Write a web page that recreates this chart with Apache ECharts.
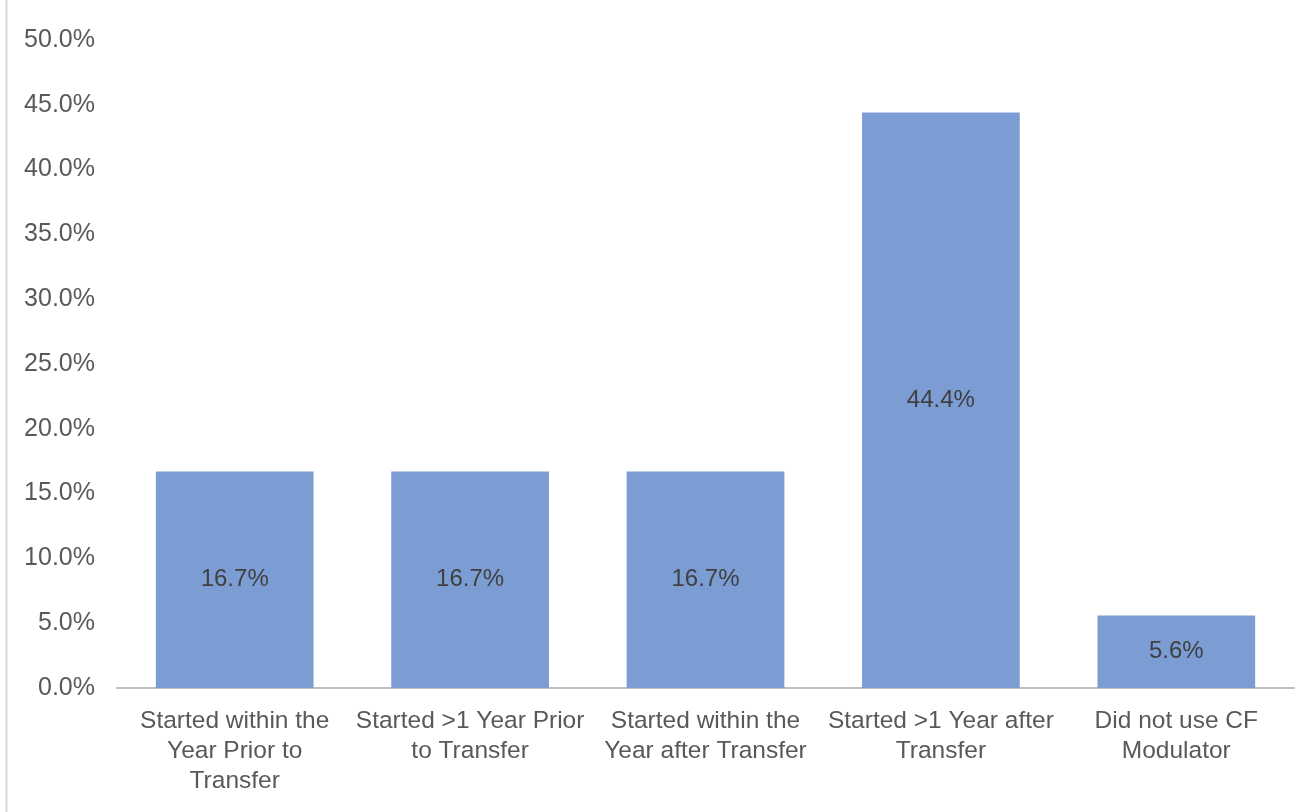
<!DOCTYPE html>
<html>
<head>
<meta charset="utf-8">
<script src="https://cdn.jsdelivr.net/npm/echarts@6/dist/echarts.min.js"></script>
<style>
  html, body { margin: 0; padding: 0; background: #ffffff; }
  #chart { width: 1310px; height: 812px; }
</style>
</head>
<body>
<div id="chart"></div>
<script>
// Timing of CF modulator start relative to transfer
const categories = [
  'Started within the\nYear Prior to\nTransfer',
  'Started >1 Year Prior\nto Transfer',
  'Started within the\nYear after Transfer',
  'Started >1 Year after\nTransfer',
  'Did not use CF\nModulator'
];
const shares = [16.7, 16.7, 16.7, 44.4, 5.6];

const yMin = 0;
const yMax = 50;
const yStep = 5;

const font = 'Liberation Sans, Arial, sans-serif';
const chart = echarts.init(document.getElementById('chart'), null, { renderer: 'canvas' });

chart.setOption({
  backgroundColor: '#ffffff',
  animation: false,
  grid: { left: 117, right: 16, top: 40, bottom: 124, containLabel: false },
  graphic: [{
    type: 'line',
    shape: { x1: 6.5, y1: 0, x2: 6.5, y2: 812 },
    style: { stroke: '#d9d9d9', lineWidth: 2 }
  }],
  xAxis: {
    type: 'category',
    data: categories,
    axisLine: { lineStyle: { color: '#bfbfbf', width: 2 } },
    axisTick: { show: false },
    axisLabel: {
      color: '#595959',
      fontFamily: font,
      fontSize: 24.5,
      lineHeight: 30,
      margin: 18,
      interval: 0
    }
  },
  yAxis: {
    type: 'value',
    min: yMin,
    max: yMax,
    interval: yStep,
    axisLine: { show: false },
    axisTick: { show: false },
    splitLine: { show: false },
    axisLabel: {
      color: '#595959',
      fontFamily: font,
      fontSize: 25,
      margin: 22,
      formatter: v => v.toFixed(1) + '%'
    }
  },
  series: [{
    type: 'bar',
    data: shares,
    barWidth: '67%',
    itemStyle: { color: '#7b9dd4' },
    label: {
      show: true,
      position: 'inside',
      color: '#404040',
      fontFamily: font,
      fontSize: 24,
      formatter: p => p.value.toFixed(1) + '%'
    }
  }]
});
</script>
</body>
</html>
